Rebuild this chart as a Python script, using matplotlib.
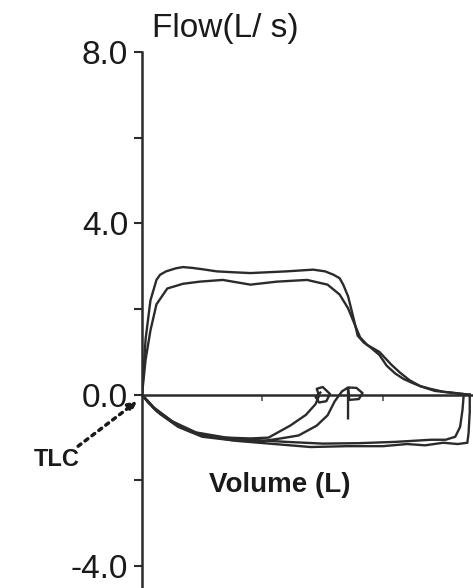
import matplotlib
matplotlib.use("Agg")
import matplotlib.pyplot as plt

plt.rcParams['font.family'] = ['Liberation Sans', 'DejaVu Sans']
plt.rcParams['axes.unicode_minus'] = False

# expiratory limbs (volume L, flow L/s)
exp1_vol = [0, 0.03, 0.07, 0.12, 0.15, 0.2, 0.28, 0.34, 0.42, 0.5, 0.62, 0.75, 0.9, 1.05, 1.2, 1.31,
            1.42, 1.52, 1.59, 1.64, 1.67, 1.71, 1.75, 1.79, 1.84, 1.89, 1.97, 2.03, 2.10, 2.17, 2.24,
            2.31, 2.39, 2.50, 2.60, 2.72]
exp1_flow = [0, 1.3, 2.2, 2.68, 2.80, 2.88, 2.95, 2.98, 2.96, 2.93, 2.88, 2.86, 2.84, 2.86, 2.88, 2.90,
             2.92, 2.88, 2.80, 2.72, 2.57, 2.30, 1.85, 1.38, 1.22, 1.12, 0.93, 0.68, 0.50, 0.37, 0.28,
             0.20, 0.14, 0.07, 0.04, 0.0]

exp2_vol = [0, 0.03, 0.07, 0.12, 0.21, 0.34, 0.48, 0.67, 0.90, 1.12, 1.37, 1.54, 1.64, 1.71, 1.77,
            1.81, 1.87, 1.97, 2.07, 2.14, 2.22, 2.31, 2.43, 2.56, 2.72]
exp2_flow = [0, 0.82, 1.50, 2.11, 2.48, 2.59, 2.64, 2.68, 2.57, 2.64, 2.68, 2.57, 2.34, 2.02, 1.61,
             1.34, 1.16, 1.00, 0.70, 0.52, 0.34, 0.20, 0.09, 0.05, 0.0]

# full inspiratory limbs (RV back to TLC)
insp1_vol = [2.72, 2.72, 2.71, 2.70, 2.62, 2.50, 2.35, 2.2, 2.0, 1.7, 1.4, 1.1, 0.8, 0.5, 0.3, 0.15, 0.05, 0]
insp1_flow = [0, -0.4, -0.9, -1.12, -1.15, -1.12, -1.18, -1.15, -1.2, -1.2, -1.22, -1.15, -1.08, -0.98,
              -0.75, -0.45, -0.18, 0]

insp2_vol = [2.67, 2.66, 2.64, 2.60, 2.52, 2.4, 2.1, 1.8, 1.5, 1.2, 0.9, 0.6, 0.4, 0.25, 0.1, 0]
insp2_flow = [0, -0.35, -0.75, -0.98, -1.05, -1.05, -1.1, -1.13, -1.14, -1.1, -1.05, -0.98, -0.86,
              -0.62, -0.3, 0]

# partial inspiratory limbs ending near 1.5 L
part1_vol = [0, 0.1, 0.25, 0.45, 0.7, 0.9, 1.05, 1.23, 1.36, 1.44, 1.47, 1.45, 1.50, 1.56, 1.53,
             1.47, 1.44, 1.48]
part1_flow = [0, -0.32, -0.62, -0.88, -1.0, -1.02, -1.0, -0.72, -0.47, -0.22, -0.02, 0.14, 0.18,
              0.02, -0.15, -0.18, -0.05, 0.05]

part2_vol = [0, 0.12, 0.3, 0.5, 0.75, 1.0, 1.15, 1.3, 1.45, 1.54, 1.60, 1.66, 1.71, 1.78, 1.83,
             1.80, 1.72, 1.71, 1.71]
part2_flow = [0, -0.38, -0.72, -0.95, -1.06, -1.08, -1.02, -0.95, -0.72, -0.48, -0.15, 0.08, 0.17,
              0.16, 0.04, -0.1, -0.12, 0.15, -0.55]

ytick_vals = [8, 4, 0, -4]
ytick_labels = ['8.0', '4.0', '0.0', '-4.0']

fig = plt.figure(figsize=(4.73, 5.88), dpi=100)
ax = fig.add_axes([0.3002, 0.0, 0.6998, 0.9116])

line_kw = dict(color='#2b2b2b', lw=1.7, solid_joinstyle='round')
for v, f in [(exp1_vol, exp1_flow), (exp2_vol, exp2_flow), (insp1_vol, insp1_flow),
             (insp2_vol, insp2_flow), (part1_vol, part1_flow), (part2_vol, part2_flow)]:
    ax.plot(v, f, **line_kw)

ax.set_xlim(0, 2.747)
ax.set_ylim(-4.51, 8)

for s in ['top', 'right']:
    ax.spines[s].set_visible(False)
ax.spines['bottom'].set_position(('data', 0))
for s in ['left', 'bottom']:
    ax.spines[s].set_color('#2b2b2b')
    ax.spines[s].set_linewidth(1.8)

ax.set_yticks(ytick_vals)
ax.set_yticklabels(ytick_labels)
ax.set_yticks([6, 2, -2], minor=True)
ax.tick_params(axis='y', which='both', direction='out', length=6, width=1.5, color='#2b2b2b',
               labelsize=24, pad=4, labelcolor='#1a1a1a')
ax.set_xticks([1, 2])
ax.set_xticklabels([])
ax.tick_params(axis='x', direction='out', length=4, width=1.2, color='#555555')

ax.text(0.083, 8.55, 'Flow(L/ s)', fontsize=24, ha='left', va='center', color='#1a1a1a', clip_on=False)
ax.text(1.145, -2.1, 'Volume (L)', fontsize=20, fontweight='bold', ha='center', va='center',
        color='#1a1a1a')
ax.text(-0.705, -1.52, 'TLC', fontsize=17, fontweight='bold', ha='center', va='center',
        color='#1a1a1a', clip_on=False)
ax.annotate('', xy=(-0.04, -0.15), xytext=(-0.53, -1.2), annotation_clip=False,
            arrowprops=dict(arrowstyle='-|>,head_length=0.5,head_width=0.25', linestyle=(0, (1, 1.5)),
                            lw=2.5, color='#1a1a1a', shrinkA=0, shrinkB=0))

fig.savefig('out.png', dpi=100)
